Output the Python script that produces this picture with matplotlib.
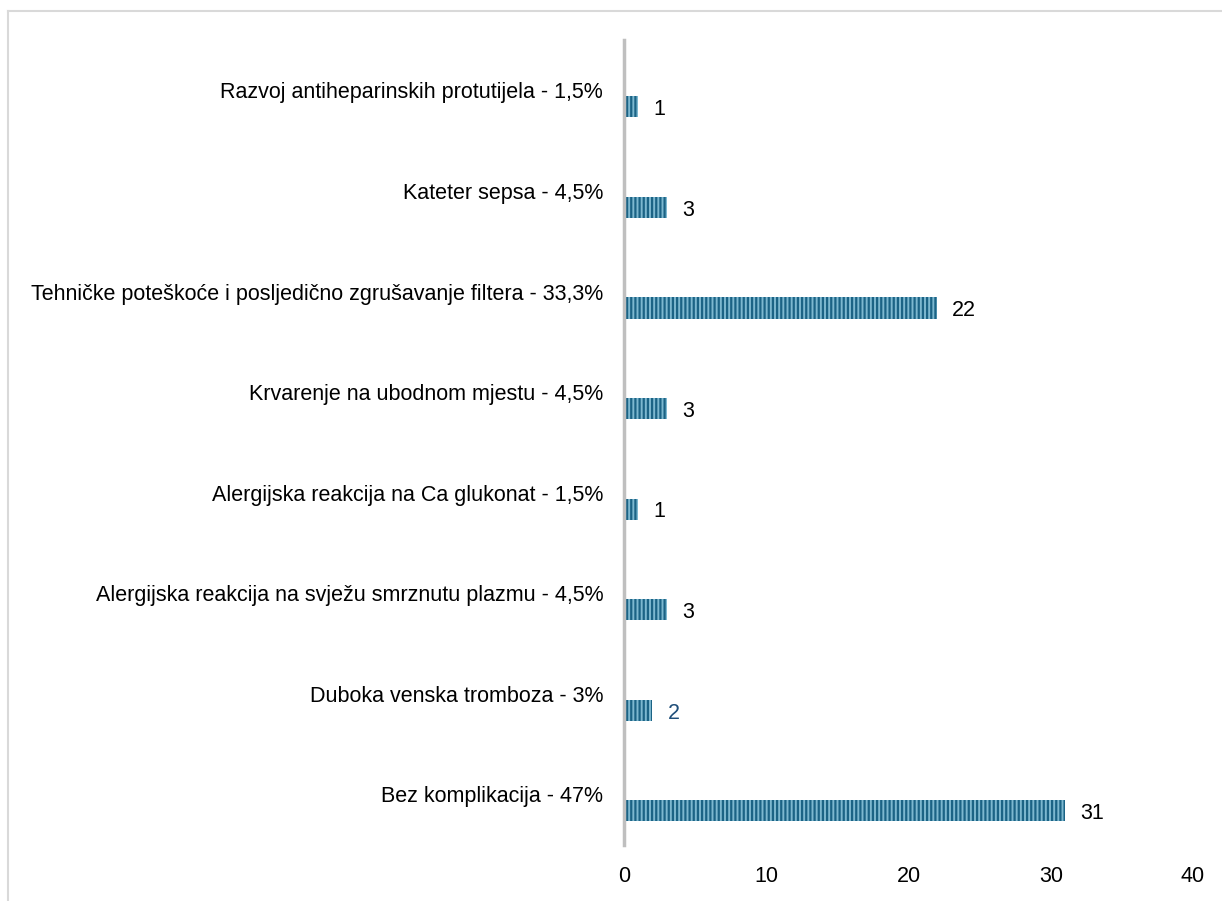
import numpy as np
import matplotlib.pyplot as plt
from matplotlib.lines import Line2D

plt.rcParams['font.family'] = ['Liberation Sans', 'DejaVu Sans']
plt.rcParams['hatch.linewidth'] = 1.6

# data (bottom to top)
categories = [
    'Bez komplikacija - 47%',
    'Duboka venska tromboza - 3%',
    'Alergijska reakcija na svježu smrznutu plazmu - 4,5%',
    'Alergijska reakcija na Ca glukonat - 1,5%',
    'Krvarenje na ubodnom mjestu - 4,5%',
    'Tehničke poteškoće i posljedično zgrušavanje filtera - 33,3%',
    'Kateter sepsa - 4,5%',
    'Razvoj antiheparinskih protutijela - 1,5%',
]
counts = [31, 2, 3, 1, 3, 22, 3, 1]
x_ticks = [0, 10, 20, 30, 40]

W, H = 1222, 901
fig = plt.figure(figsize=(W / 100, H / 100), dpi=100)

# outer frame (only top and left visible)
fig.add_artist(Line2D([8 / W, 8 / W], [0, 1 - 11 / H], transform=fig.transFigure,
                      color='#d9d9d9', lw=1.5))
fig.add_artist(Line2D([8 / W, 1], [1 - 11 / H, 1 - 11 / H], transform=fig.transFigure,
                      color='#d9d9d9', lw=1.5))

ax = fig.add_axes([624 / W, 1 - 845 / H, (1193 - 624) / W, (845 - 40) / H])
y = np.arange(len(categories))
ax.barh(y, counts, height=0.21, color='#7db8d0', edgecolor='#1b6385',
        hatch='||||', linewidth=0)
ax.set_xlim(0, 40)
ax.set_ylim(-0.34, 7.665)
ax.set_xticks(x_ticks)
ax.set_yticks([])
ax.tick_params(axis='x', length=0, pad=15, labelsize=15.5)
for s in ['top', 'right', 'bottom']:
    ax.spines[s].set_visible(False)
ax.spines['left'].set_color('#bfbfbf')
ax.spines['left'].set_linewidth(2.5)

for yi, lab, v in zip(y, categories, counts):
    ax.annotate(lab, (0, yi), xytext=(-15, 10), textcoords='offset points',
                ha='right', va='center', fontsize=15.5)
    col = '#1f4e79' if v == 2 else 'black'
    ax.annotate(str(v), (v, yi), xytext=(11, -2), textcoords='offset points',
                ha='left', va='center', fontsize=15.5, color=col)

fig.savefig('out.png', dpi=100)
